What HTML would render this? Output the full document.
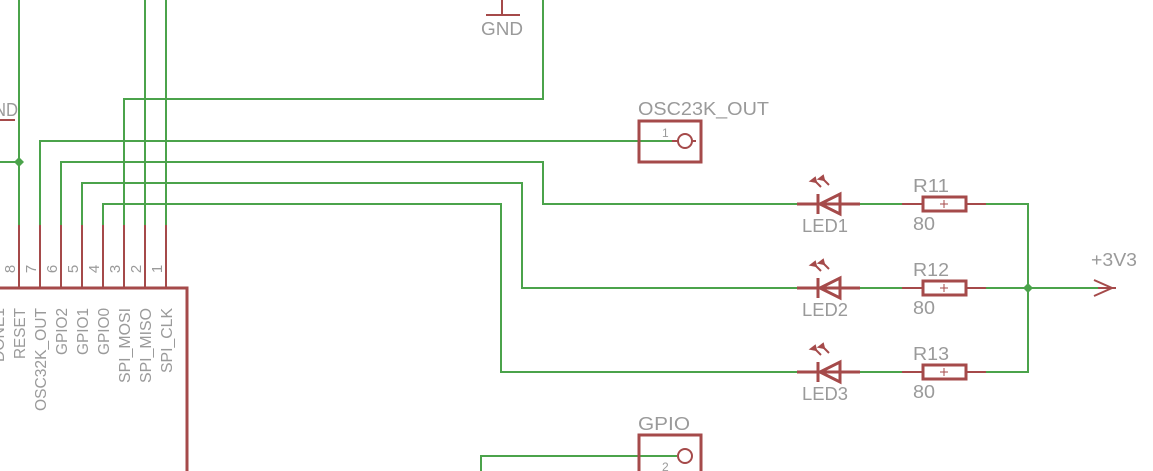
<!DOCTYPE html>
<html><head><style>
html,body{margin:0;padding:0;background:#fff;width:1153px;height:471px;overflow:hidden}
svg text{font-family:"Liberation Sans",sans-serif;fill:#9a9a9a}
</style></head><body>
<svg width="1153" height="471" viewBox="0 0 1153 471" xmlns="http://www.w3.org/2000/svg">
<g fill="none" stroke="#4ba34b" stroke-width="2">
<path d="M19 0V225M0 162H19"/>
<path d="M124 225V99H543V0"/>
<path d="M145 0V225M166 0V225"/>
<path d="M40 225V141H672"/>
<path d="M61 225V162H543V204H797"/>
<path d="M82 225V183H522V288H797"/>
<path d="M103 225V204H501V372H797"/>
<path d="M860 204H902M860 288H902M860 372H902"/>
<path d="M986 204H1028V372H986M986 288H1098"/>
<path d="M481 471V456H677"/>
</g>
<g fill="#4ba34b"><path d="M19 157l5 5-5 5-5-5z"/><path d="M1028 283l5 5-5 5-5-5z"/></g>
<g fill="none" stroke="#a54a4a" stroke-width="2">
<path d="M0 120H15"/>
<path d="M486 15H520M502 0V15"/>
<path d="M19 225V288M40 225V288M61 225V288M82 225V288M103 225V288M124 225V288M145 225V288M166 225V288"/>
<path d="M0 288H187V471" stroke-width="3"/>
<rect x="639" y="121" width="62" height="41" stroke-width="3"/>
<circle cx="685" cy="141" r="7"/><path d="M672 141H678M692 141H696"/>
<path d="M639 471V435H701V471" stroke-width="3"/>
<circle cx="685" cy="456" r="7"/>
</g>
<g fill="none" stroke="#a54a4a" stroke-width="2">
<g id="l1">
<path d="M797 204H860M818 194V214" stroke-width="3"/>
<path d="M840 194V214L820 204Z" stroke-width="3"/>
<path d="M814 180l7 7M822 178l7 7" stroke-width="2"/>
<path d="M811 181l4-3 1 4zM819 179l4-3 1 4z" fill="#a54a4a"/>
<path d="M902 204H923M966 204H986"/>
<rect x="923" y="197" width="43" height="14" stroke-width="3"/>
<path d="M940 204h8M944 200v8" stroke-width="1"/>
</g>
<use href="#l1" y="84"/><use href="#l1" y="168"/>
<path d="M1094 280l18 8-18 8M1098 288H1116" stroke-width="2"/>
</g>
<g font-size="18">
<text x="481" y="35" textLength="42" lengthAdjust="spacingAndGlyphs">GND</text>
<text x="638" y="115" textLength="131" lengthAdjust="spacingAndGlyphs">OSC23K_OUT</text>
<text x="638" y="430" textLength="52" lengthAdjust="spacingAndGlyphs">GPIO</text>
<text x="1091" y="266" textLength="46" lengthAdjust="spacingAndGlyphs">+3V3</text>
<text x="802" y="232" textLength="46" lengthAdjust="spacingAndGlyphs">LED1</text>
<text x="802" y="316" textLength="46" lengthAdjust="spacingAndGlyphs">LED2</text>
<text x="802" y="400" textLength="46" lengthAdjust="spacingAndGlyphs">LED3</text>
<text x="913" y="192" textLength="36" lengthAdjust="spacingAndGlyphs">R11</text>
<text x="913" y="276" textLength="36" lengthAdjust="spacingAndGlyphs">R12</text>
<text x="913" y="360" textLength="36" lengthAdjust="spacingAndGlyphs">R13</text>
<text x="913" y="230" textLength="22" lengthAdjust="spacingAndGlyphs">80</text>
<text x="913" y="314" textLength="22" lengthAdjust="spacingAndGlyphs">80</text>
<text x="913" y="398" textLength="22" lengthAdjust="spacingAndGlyphs">80</text>
<text x="-6" y="116" textLength="24" lengthAdjust="spacingAndGlyphs">ND</text>
</g>
<g font-size="12"><text x="662" y="137">1</text><text x="662" y="471">2</text></g>
<g font-size="15">
<text transform="translate(15,269) rotate(-90)" text-anchor="middle">8</text>
<text transform="translate(36,269) rotate(-90)" text-anchor="middle">7</text>
<text transform="translate(57,269) rotate(-90)" text-anchor="middle">6</text>
<text transform="translate(78,269) rotate(-90)" text-anchor="middle">5</text>
<text transform="translate(99,269) rotate(-90)" text-anchor="middle">4</text>
<text transform="translate(120,269) rotate(-90)" text-anchor="middle">3</text>
<text transform="translate(141,269) rotate(-90)" text-anchor="middle">2</text>
<text transform="translate(162,269) rotate(-90)" text-anchor="middle">1</text>
</g>
<g font-size="16">
<text transform="translate(4,308) rotate(-90)" text-anchor="end" textLength="54" lengthAdjust="spacingAndGlyphs">DONE1</text>
<text transform="translate(25,308) rotate(-90)" text-anchor="end" textLength="51" lengthAdjust="spacingAndGlyphs">RESET</text>
<text transform="translate(46,308) rotate(-90)" text-anchor="end" textLength="103" lengthAdjust="spacingAndGlyphs">OSC32K_OUT</text>
<text transform="translate(67,308) rotate(-90)" text-anchor="end" textLength="47" lengthAdjust="spacingAndGlyphs">GPIO2</text>
<text transform="translate(88,308) rotate(-90)" text-anchor="end" textLength="47" lengthAdjust="spacingAndGlyphs">GPIO1</text>
<text transform="translate(109,308) rotate(-90)" text-anchor="end" textLength="47" lengthAdjust="spacingAndGlyphs">GPIO0</text>
<text transform="translate(130,308) rotate(-90)" text-anchor="end" textLength="75" lengthAdjust="spacingAndGlyphs">SPI_MOSI</text>
<text transform="translate(151,308) rotate(-90)" text-anchor="end" textLength="75" lengthAdjust="spacingAndGlyphs">SPI_MISO</text>
<text transform="translate(172,308) rotate(-90)" text-anchor="end" textLength="65" lengthAdjust="spacingAndGlyphs">SPI_CLK</text>
</g>
</svg>
</body></html>
